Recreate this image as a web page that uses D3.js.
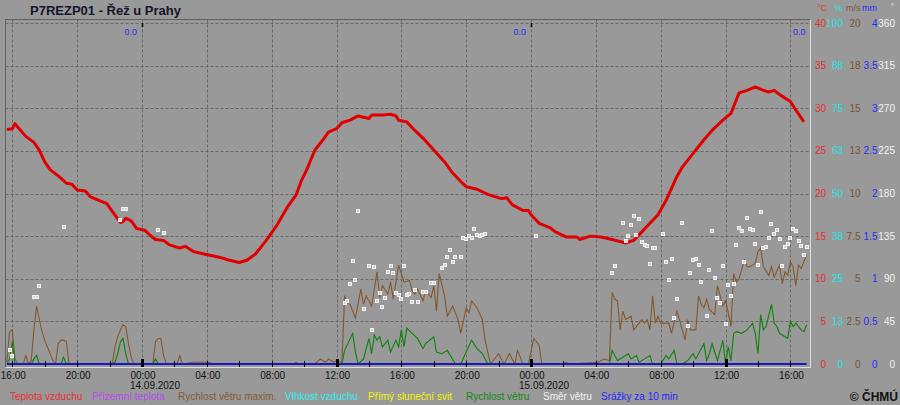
<!DOCTYPE html>
<html><head><meta charset="utf-8">
<script src="https://cdn.jsdelivr.net/npm/d3@7"></script>
<style>
body{margin:0;background:#999}
svg{display:block}
text{font-family:"Liberation Sans",Arial,sans-serif}
</style>
</head><body>
<svg id="c" width="900" height="405"></svg>
<script>
// ---------------- DATA ----------------
const title = "P7REZP01 - Řež u Prahy";

// Air temperature (°C); times "DD HH:MM" (September 2020)
const tempTimes = ["13 15:40","13 16:00","13 16:10","13 16:20","13 16:50","13 17:20","13 17:40","13 18:00","13 18:20","13 18:40","13 19:00","13 19:20","13 19:40","13 20:00","13 20:30","13 20:50","13 21:20","13 21:50","13 22:10","13 22:40","13 22:50","13 23:00","13 23:20","13 23:40",
"14 00:10","14 00:30","14 00:50","14 01:20","14 01:40","14 02:20","14 02:40","14 03:10","14 03:50","14 04:20","14 04:50","14 05:20","14 06:00","14 06:30","14 07:00","14 07:40","14 08:20","14 09:00","14 09:30","14 09:50","14 10:10","14 10:40","14 11:10","14 11:30","14 12:00","14 12:20","14 12:50","14 13:20","14 14:00","14 14:10","14 14:50","14 15:20","14 15:40","14 15:50","14 16:20","14 16:50","14 17:20","14 18:00","14 18:40","14 19:10","14 19:40","14 20:00","14 20:40","14 21:20","14 21:40","14 22:10","14 22:30","14 22:50","14 23:30","14 23:50",
"15 00:00","15 00:30","15 01:10","15 01:30","15 02:10","15 02:50","15 03:00","15 03:40","15 04:20","15 05:00","15 05:50","15 06:20","15 06:50","15 07:20","15 07:50","15 08:20","15 09:00","15 09:20","15 10:00","15 10:40","15 11:10","15 11:50","15 12:20","15 12:40","15 12:50","15 13:20","15 13:50","15 14:20","15 14:40","15 15:00","15 15:20","15 16:00","15 16:20","15 16:50"];
const tempValues = [27.5,27.6,28.2,27.8,26.7,26.0,25.1,23.7,22.8,22.3,21.8,21.2,21.1,20.4,20.3,19.6,19.2,18.8,17.9,16.6,16.7,17.1,16.8,15.9,
15.7,15.1,14.6,14.5,14.0,13.6,13.8,13.2,12.9,12.7,12.5,12.2,11.9,12.2,12.9,14.5,16.3,18.5,19.8,21.5,22.8,25.1,26.3,27.2,27.6,28.3,28.6,29.1,28.8,29.2,29.2,29.3,29.1,28.6,28.4,27.4,26.5,25.1,23.7,22.4,21.4,20.8,20.5,19.9,19.7,19.4,19.5,18.7,18.0,18.0,
17.5,16.5,16.0,15.5,14.9,14.9,14.6,15.0,14.9,14.6,14.2,14.5,15.5,16.5,17.5,19.2,22.0,23.1,24.7,26.3,27.4,28.6,29.4,31.0,31.8,32.1,32.5,32.1,31.9,32.1,31.6,30.8,29.8,28.4];

// Maximum wind speed (m/s)
const gustTimes = ["13 15:40","13 15:50","13 16:00","13 16:10","13 16:20","13 16:40","13 16:50","13 17:00","13 17:10","13 17:20","13 17:30","13 17:40","13 17:50","13 18:00","13 18:10","13 18:20","13 18:30","13 18:40","13 18:50","13 19:00","13 19:10","13 19:20","13 19:30","13 22:10","13 22:20","13 22:30","13 22:40","13 22:50","13 23:00","13 23:10","13 23:20","13 23:30",
"14 00:40","14 00:50","14 01:00","14 01:10","14 01:20","14 01:30","14 02:10","14 02:20","14 02:30","14 03:10","14 04:10","14 04:20","14 09:20","14 09:30","14 09:40","14 10:40","14 11:00","14 11:20","14 11:30","14 11:50","14 12:00","14 12:20","14 12:30","14 12:40","14 12:50","14 13:10","14 13:30","14 13:40","14 13:50","14 14:10","14 14:20","14 14:30","14 14:40","14 14:50","14 15:10","14 15:20","14 15:30","14 15:50","14 16:00","14 16:10","14 16:30","14 16:40","14 16:50","14 17:00","14 17:20","14 17:30","14 17:50","14 18:00","14 18:10","14 18:20","14 18:40","14 18:50","14 19:10","14 19:30","14 19:40","14 20:00","14 20:10","14 20:20","14 20:40","14 21:00","14 21:10","14 21:30","14 22:00","14 22:20","14 22:40","14 23:00","14 23:10","14 23:30","14 23:50",
"15 00:10","15 00:30","15 00:40","15 02:00","15 02:10","15 02:20","15 04:10","15 04:30","15 04:50","15 05:00","15 05:10","15 05:20","15 05:30","15 05:40","15 05:50","15 06:10","15 06:20","15 06:30","15 06:50","15 07:00","15 07:10","15 07:20","15 07:30","15 07:40","15 07:50","15 08:00","15 08:30","15 08:40","15 09:00","15 09:20","15 09:30","15 09:40","15 09:50","15 10:10","15 10:20","15 10:30","15 10:40","15 10:50","15 11:00","15 11:20","15 11:30","15 11:50","15 12:00","15 12:10","15 12:20","15 12:30","15 12:40","15 12:50","15 13:10","15 13:20","15 13:30","15 13:50","15 14:00","15 14:10","15 14:20","15 14:40","15 14:50","15 15:00","15 15:20","15 15:30","15 15:40","15 15:50","15 16:00","15 16:10","15 16:20","15 16:30","15 16:40","15 17:00"];
const gustValues = [0.1,1.9,2.0,0.3,0,0,0.5,0,0.2,2.0,3.4,2.6,1.9,1.4,1.0,0.6,0.2,0,1.2,1.4,1.4,1.3,0,0,1.0,1.6,2.0,2.3,2.2,1.2,0.4,0,
0,1.3,1.5,1.5,0.5,0,0,0.5,0,0.1,0.1,0,0,0.1,0,0,0.3,0.1,0.3,0.1,0.2,0.1,4.0,3.6,3.5,2.7,4.4,3.5,4.0,3.4,4.4,5.4,3.9,4.6,4.1,4.8,3.8,5.8,5.3,4.8,4.9,4.3,4.1,4.4,3.7,4.3,3.9,4.6,3.1,5.3,4.0,2.8,3.4,2.6,1.8,3.3,3.0,3.7,3.3,2.6,1.4,0,0.6,0,0.6,0,0.8,0,0,
1.5,1.1,0,0,0.1,0,0.1,0.3,0.2,4.2,3.8,3.7,2.0,3.1,2.6,2.8,2.0,2.2,2.6,2.4,2.6,2.0,4.0,2.4,2.8,2.4,2.4,1.8,3.1,2.0,1.4,2.6,2.0,2.0,4.0,3.5,3.3,3.8,3.2,2.9,4.6,3.4,3.7,3.0,2.2,5.3,4.8,5.0,6.1,5.7,5.7,5.9,6.6,6.8,5.7,5.2,5.7,5.1,5.8,4.7,5.4,5.2,6.0,5.7,4.6,5.8,5.6,6.4];

// Wind speed (m/s)
const windTimes = ["13 15:40","13 15:50","13 16:00","13 16:10","13 17:10","13 17:20","13 17:30","13 17:40","13 19:00","13 19:10","13 19:20","13 22:10","13 22:20","13 22:30","13 22:40","13 22:50","13 23:00","13 23:10",
"14 00:40","14 00:50","14 01:00","14 12:20","14 12:30","14 13:00","14 13:10","14 13:20","14 13:40","14 14:00","14 14:10","14 14:20","14 14:30","14 14:40","14 14:50","14 15:10","14 15:20","14 15:40","14 15:50","14 16:00","14 16:10","14 16:20","14 16:40","14 17:00","14 17:20","14 17:30","14 18:00","14 18:10","14 18:30","14 18:50","14 19:20","14 19:40","14 20:00","14 20:20","14 20:40","14 21:00","14 21:20",
"15 04:50","15 05:00","15 05:20","15 05:40","15 06:00","15 06:10","15 06:30","15 06:40","15 07:00","15 07:20","15 07:30","15 08:00","15 08:20","15 08:30","15 08:50","15 09:00","15 09:20","15 09:40","15 10:00","15 10:10","15 10:30","15 10:40","15 10:50","15 11:00","15 11:10","15 11:30","15 11:50","15 12:00","15 12:10","15 12:20","15 12:30","15 12:40","15 13:00","15 13:20","15 13:40","15 13:50","15 14:00","15 14:10","15 14:20","15 14:30","15 14:50","15 15:00","15 15:10","15 15:20","15 15:40","15 15:50","15 16:00","15 16:10","15 16:20","15 16:40","15 16:50","15 17:00"];
const windValues = [0,0.3,1.3,0,0,0.3,0.5,0,0,0.4,0,0,0.1,0.6,1.3,1.5,0.6,0,
0,0.3,0,0,0.8,1.8,0.7,0,0.3,1.5,0.6,1.7,1.4,1.6,1.0,1.4,0.7,1.4,1.0,2.0,1.0,2.1,1.8,1.5,0.9,1.2,1.6,0.7,0.6,0.8,0,0,0.7,1.4,0.9,0.6,0,
0,0.8,0.2,0.4,0.6,0.3,0.5,0.1,0.3,0.5,0,0,0.5,0.3,0.8,0,0,0.2,0.6,0.3,0.9,1.2,0.2,0.6,1.2,0.2,1.4,0,1.0,0.2,1.8,1.9,1.8,2.0,2.4,1.8,0.6,2.9,2.0,2.2,3.5,2.4,2.2,1.8,1.6,1.5,2.5,2.2,2.4,2.0,1.9,2.3];

// Wind direction (°)
const dirTimes = ["13 15:50","13 16:00","13 17:20","13 17:30","13 17:40","13 19:10","13 22:40","13 22:50","13 23:00","14 01:00","14 01:20",
"14 12:30","14 12:40","14 12:50","14 13:00","14 13:10","14 13:20","14 13:40","14 14:00","14 14:10","14 14:20","14 14:30","14 14:40","14 14:50","14 15:00","14 15:10","14 15:20","14 15:30","14 15:40","14 15:50","14 16:00","14 16:10","14 16:20","14 16:30","14 16:40","14 16:50","14 17:00","14 17:20","14 17:30","14 17:50","14 18:00","14 18:30","14 18:40","14 18:50","14 19:00","14 19:10","14 19:20","14 19:40","14 19:50","14 20:00","14 20:10","14 20:20","14 20:30","14 20:40","14 20:50","14 21:00","14 21:10",
"15 00:20","15 05:00","15 05:10","15 05:40","15 05:50","15 06:00","15 06:10","15 06:20","15 06:30","15 06:40","15 06:50","15 07:00","15 07:10","15 07:20","15 07:30","15 07:40","15 08:10","15 08:20","15 08:30","15 08:40","15 08:50","15 09:00","15 09:20","15 09:40","15 09:50","15 10:00","15 10:10","15 10:20","15 10:30","15 10:50","15 11:00","15 11:10","15 11:20","15 11:30","15 11:40","15 11:50","15 12:00","15 12:10","15 12:20","15 12:30","15 12:40","15 12:50","15 13:00","15 13:10","15 13:20","15 13:30","15 13:40","15 13:50","15 14:00","15 14:10","15 14:20","15 14:30","15 14:40","15 14:50","15 15:00","15 15:10","15 15:20","15 15:30","15 15:40","15 15:50","15 16:00","15 16:10","15 16:20","15 16:30","15 16:40","15 16:50","15 17:00"];
const dirValues = [15,8,71,71,82,145,152,164,164,141,138,
64,66,84,109,89,161,58,103,36,102,67,75,60,70,97,103,96,75,73,69,103,73,74,65,78,65,76,76,86,85,101,105,113,120,108,113,113,133,132,135,133,142,136,135,136,137,
135,96,103,149,130,135,147,156,136,153,129,126,125,106,122,122,137,108,89,111,49,69,149,40,96,110,111,104,87,51,99,140,91,70,64,103,42,83,72,84,126,144,140,108,154,143,141,127,105,160,122,124,133,148,137,141,132,103,124,127,133,142,140,130,125,115,124];

// Precipitation per 10 min (mm) and daily totals
const rainTimes = ["13 15:40","15 17:00"];
const rainValues = [0,0];
const dailyRainDays = ["14 00:00","15 00:00","16 00:00"];
const dailyRainTotals = [0.0,0.0,0.0];

// Axis ticks / labels
const xTickTimes = ["13 16:00","13 20:00","14 00:00","14 04:00","14 08:00","14 12:00","14 16:00","14 20:00","15 00:00","15 04:00","15 08:00","15 12:00","15 16:00"];
const xTickLabels = ["16:00","20:00","00:00","04:00","08:00","12:00","16:00","20:00","00:00","04:00","08:00","12:00","16:00"];
const dateTimes = ["14 00:00","15 00:00"];
const dateLabels = ["14.09.2020","15.09.2020"];
const tempTicks = [0,5,10,15,20,25,30,35,40];
const humTickLabels = ["0","13","25","38","50","63","75","88","100"];
const windTickLabels = ["0","2.5","5","7.5","10","13","15","18","20"];
const rainTickLabels = ["0","0.5","1","1.5","2","2.5","3","3.5","4"];
const dirTickLabels = ["0","45","90","135","180","225","270","315","360"];
const unitLabels = ["°C","%","m/s","mm","°"];
const legendLabels = ["Teplota vzduchu","Přízemní teplota","Rychlost větru maxim.","Vlhkost vzduchu","Přímý sluneční svit","Rychlost větru","Směr větru","Srážky za 10 min"];
const copyright = "© ČHMÚ";

// ---------------- STYLE / LAYOUT ----------------
const C = {bg:"#999999", grid:"#686868", temp:"#e00000", gust:"#85582e", wind:"#0b840b", dir:"#f2f2f2", rain:"#1818c0",
  tempTxt:"#e03030", humTxt:"#22e6e6", windTxt:"#7a5533", rainTxt:"#2a2aff", dirTxt:"#f2f2f2"};
const legendColors = ["#e83030","#b848f0","#845a36","#2ef0f0","#f4f400","#128a12","#f2f2f2","#2626ff"];
const legendX = [10,92,178,285,368,466,543,601];
const P = {l:5.5, t:19.5, r:810.5, b:367.5, y0:364, y40:23};

const parseT = s => { const [d, hm] = s.split(" "); const [h, m] = hm.split(":").map(Number); return new Date(Date.UTC(2020, 8, +d, h, m)); };

const svg = d3.select("#c");
svg.append("rect").attr("width",900).attr("height",405).attr("fill",C.bg);

const x = d3.scaleUtc().domain([parseT("13 16:00"), parseT("15 16:00")]).range([12.3, 790.4]);
const yT = d3.scaleLinear().domain([0,40]).range([P.y0, P.y40]);
const yH = d3.scaleLinear().domain([0,100]).range([P.y0, P.y40]);
const yW = d3.scaleLinear().domain([0,20]).range([P.y0, P.y40]);
const yR = d3.scaleLinear().domain([0,4]).range([P.y0, P.y40]);
const yD = d3.scaleLinear().domain([0,360]).range([P.y0, P.y40]);

// grid
const g = svg.append("g");
g.selectAll(".hg").data(tempTicks.filter(v=>v>0)).join("line")
  .attr("x1",P.l).attr("x2",P.r).attr("y1",d=>Math.round(yT(d))+0.5).attr("y2",d=>Math.round(yT(d))+0.5)
  .attr("stroke",C.grid).attr("stroke-dasharray","3,2").attr("stroke-width",1);
g.selectAll(".vg").data(xTickTimes).join("line")
  .attr("x1",d=>Math.round(x(parseT(d)))+0.5).attr("x2",d=>Math.round(x(parseT(d)))+0.5)
  .attr("y1",P.t).attr("y2",P.y0).attr("stroke",C.grid).attr("stroke-dasharray","3,2");

// frame
svg.append("line").attr("x1",P.l).attr("x2",P.r).attr("y1",P.t).attr("y2",P.t).attr("stroke","#606060");
svg.append("line").attr("x1",P.l).attr("x2",P.l).attr("y1",P.t).attr("y2",P.b).attr("stroke","#606060");
svg.append("line").attr("x1",P.r).attr("x2",P.r).attr("y1",P.t).attr("y2",P.b+0.5).attr("stroke","#dedede");
svg.append("line").attr("x1",P.l).attr("x2",P.r).attr("y1",P.b).attr("y2",P.b).attr("stroke","#dedede");

// series
const mk = (times, vals) => times.map((t,i)=>({t:parseT(t), v:vals[i]}));
const lineOf = ys => d3.line().x(d=>x(d.t)).y(d=>ys(d.v));

svg.append("path").datum(mk(gustTimes,gustValues)).attr("d",lineOf(yW)).attr("fill","none").attr("stroke",C.gust).attr("stroke-width",1.1);
svg.append("path").datum(mk(windTimes,windValues)).attr("d",lineOf(yW)).attr("fill","none").attr("stroke",C.wind).attr("stroke-width",1.1);
svg.append("path").datum(mk(tempTimes,tempValues)).attr("d",lineOf(yT)).attr("fill","none").attr("stroke",C.temp).attr("stroke-width",3).attr("stroke-linejoin","round");
svg.append("path").datum(mk(rainTimes,rainValues)).attr("d",lineOf(yR)).attr("fill","none").attr("stroke",C.rain).attr("stroke-width",2);
svg.selectAll(".dir").data(mk(dirTimes,dirValues)).join("rect")
  .attr("x",d=>Math.round(x(d.t))-1.5).attr("y",d=>Math.round(yD(d.v))-1.5).attr("width",3).attr("height",3)
  .attr("fill","#cfcfcf").attr("stroke",C.dir).attr("stroke-width",1);

// bottom ticks
const [t0, t1] = [x.invert(P.l), x.invert(P.r)];
const ticks2h = d3.utcHour.every(2).range(t0, t1);
svg.selectAll(".tk").data(ticks2h).join("line")
  .attr("x1",d=>Math.round(x(d))+0.5).attr("x2",d=>Math.round(x(d))+0.5)
  .attr("y1",d=>d.getUTCHours()%12===0?359:361).attr("y2",367)
  .attr("stroke","#000").attr("stroke-width",d=>d.getUTCHours()%12===0?3:1);
// top midnight ticks
svg.selectAll(".tt").data(dateTimes).join("line")
  .attr("x1",d=>Math.round(x(parseT(d)))+0.5).attr("x2",d=>Math.round(x(parseT(d)))+0.5)
  .attr("y1",P.y40).attr("y2",P.y40+4).attr("stroke","#000").attr("stroke-width",1.5);

// x labels
svg.selectAll(".xl").data(xTickTimes).join("text")
  .attr("x",d=>x(parseT(d))+1).attr("y",379).attr("text-anchor","middle")
  .attr("font-size",10).attr("fill","#111").text((d,i)=>xTickLabels[i]);
svg.selectAll(".dl").data(dateTimes).join("text")
  .attr("x",d=>x(parseT(d))+13).attr("y",389).attr("text-anchor","middle")
  .attr("font-size",10).attr("fill","#111").text((d,i)=>dateLabels[i]);

// daily precipitation totals
svg.selectAll(".pr").data(dailyRainDays).join("text")
  .attr("x",d=>Math.min(x(parseT(d)), P.r)-5).attr("y",35).attr("text-anchor","end")
  .attr("font-size",9).attr("fill",C.rainTxt).text((d,i)=>dailyRainTotals[i].toFixed(1));

// right axes
const cols = [
  {sc:yT, vals:tempTicks, lab:tempTicks.map(String), xr:826, c:C.tempTxt},
  {sc:yH, vals:d3.range(9).map(i=>i*12.5), lab:humTickLabels, xr:843, c:C.humTxt},
  {sc:yW, vals:d3.range(9).map(i=>i*2.5), lab:windTickLabels, xr:860.5, c:C.windTxt},
  {sc:yR, vals:d3.range(9).map(i=>i*0.5), lab:rainTickLabels, xr:877.5, c:C.rainTxt},
  {sc:yD, vals:d3.range(9).map(i=>i*45), lab:dirTickLabels, xr:895, c:C.dirTxt}
];
cols.forEach(col=>{
  svg.append("g").selectAll("text").data(col.vals).join("text")
    .attr("x",col.xr).attr("y",d=>col.sc(d)+3.5).attr("text-anchor","end")
    .attr("font-size",10).attr("fill",col.c).text((d,i)=>col.lab[i]);
});
const unitX = [827,842.5,860.5,877,894];
const unitC = [C.tempTxt,C.humTxt,C.windTxt,C.rainTxt,C.dirTxt];
svg.selectAll(".un").data(unitLabels).join("text")
  .attr("x",(d,i)=>unitX[i]).attr("y",(d,i)=>i===4?9:10.5).attr("text-anchor","end")
  .attr("font-size",(d,i)=>i===4?8:9).attr("fill",(d,i)=>unitC[i]).text(d=>d);

// title
svg.append("text").attr("x",30).attr("y",15).attr("font-size",13).attr("font-weight","bold").attr("fill","#151528").text(title);

// legend
svg.selectAll(".lg").data(legendLabels).join("text")
  .attr("x",(d,i)=>legendX[i]).attr("y",400).attr("font-size",10).attr("fill",(d,i)=>legendColors[i]).text(d=>d);
svg.append("text").attr("x",898).attr("y",401).attr("text-anchor","end").attr("font-size",12).attr("font-weight","bold").attr("fill","#111").text(copyright);
</script>
</body></html>
